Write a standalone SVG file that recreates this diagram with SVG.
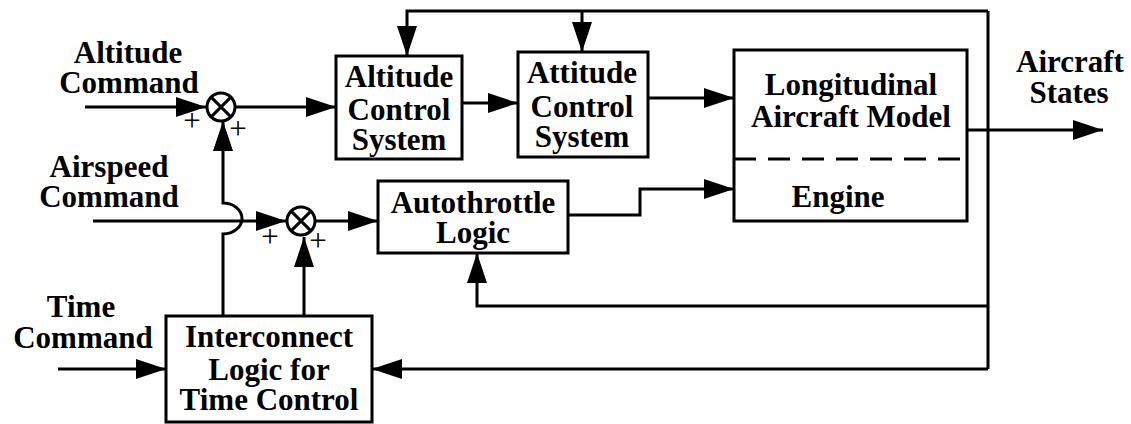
<svg xmlns="http://www.w3.org/2000/svg" width="1131" height="424" viewBox="0 0 1131 424">
<style>
.ln{fill:none;stroke:#000;stroke-width:3}
.box{fill:#fff;stroke:#000;stroke-width:3}
.t{font-family:"Liberation Serif","Times New Roman",serif;font-weight:bold;font-size:31px;text-anchor:middle;fill:#000}
.p{font-family:"Liberation Serif","Times New Roman",serif;font-size:31px;text-anchor:middle;fill:#000}
</style>
<defs>
<marker id="ah" markerUnits="userSpaceOnUse" markerWidth="30" markerHeight="20" refX="30" refY="10" orient="auto" viewBox="0 0 30 20">
<path d="M0,0 L30,10 L0,20 z" fill="#000"/>
</marker>
</defs>
<rect width="1131" height="424" fill="#fff"/>
<g id="connectors">
<path class="ln" d="M85,107 H206" marker-end="url(#ah)"/>
<path class="ln" d="M235,107 H336" marker-end="url(#ah)"/>
<path class="ln" d="M462,103 H518" marker-end="url(#ah)"/>
<path class="ln" d="M648,98 H734" marker-end="url(#ah)"/>
<path class="ln" d="M967,130 H1103" marker-end="url(#ah)"/>
<path class="ln" d="M988,11 V369"/>
<path class="ln" d="M988,11 H407 V56" marker-end="url(#ah)"/>
<path class="ln" d="M582,11 V52" marker-end="url(#ah)"/>
<path class="ln" d="M93,221 H286" marker-end="url(#ah)"/>
<path class="ln" d="M315,221 H378" marker-end="url(#ah)"/>
<path class="ln" d="M568,215 H640 V189 H734" marker-end="url(#ah)"/>
<path class="ln" d="M988,306 H477 V253" marker-end="url(#ah)"/>
<path class="ln" d="M988,369 H372" marker-end="url(#ah)"/>
<path class="ln" d="M58,369 H166" marker-end="url(#ah)"/>
<path class="ln" d="M223,316 V234 A19,15.5 0 0 0 223,203 V121" marker-end="url(#ah)"/>
<path class="ln" d="M304,316 V237" marker-end="url(#ah)"/>
</g>
<g id="sum1">
<circle class="box" cx="221" cy="107" r="14"/>
<path class="ln" d="M211.1,97.1 L230.9,116.9 M230.9,97.1 L211.1,116.9"/>
<text class="p" x="192" y="130.5">+</text>
<text class="p" x="238" y="138.5">+</text>
</g>
<g id="sum2">
<circle class="box" cx="301" cy="221" r="14"/>
<path class="ln" d="M291.1,211.1 L310.9,230.9 M310.9,211.1 L291.1,230.9"/>
<text class="p" x="270" y="246.5">+</text>
<text class="p" x="318" y="250.5">+</text>
</g>
<g id="altitude-command">
<text class="t" x="128" y="63">Altitude</text>
<text class="t" x="129" y="93">Command</text>
</g>
<g id="airspeed-command">
<text class="t" x="109" y="177">Airspeed</text>
<text class="t" x="109" y="207">Command</text>
</g>
<g id="time-command">
<text class="t" x="81" y="317">Time</text>
<text class="t" x="83" y="348">Command</text>
</g>
<g id="aircraft-states">
<text class="t" x="1070" y="72">Aircraft</text>
<text class="t" x="1069" y="103">States</text>
</g>
<g id="altitude-control">
<rect class="box" x="336" y="56" width="126" height="103"/>
<text class="t" x="399" y="87">Altitude</text>
<text class="t" x="399" y="120">Control</text>
<text class="t" x="399" y="150">System</text>
</g>
<g id="attitude-control">
<rect class="box" x="518" y="52" width="130" height="105"/>
<text class="t" x="582" y="83">Attitude</text>
<text class="t" x="582" y="117">Control</text>
<text class="t" x="582" y="147">System</text>
</g>
<g id="aircraft-model">
<rect class="box" x="734" y="50" width="233" height="171"/>
<line x1="734" y1="159" x2="967" y2="159" stroke="#000" stroke-width="3" stroke-dasharray="22,12"/>
<text class="t" x="851" y="95">Longitudinal</text>
<text class="t" x="851" y="127">Aircraft Model</text>
<text class="t" x="838" y="207">Engine</text>
</g>
<g id="autothrottle">
<rect class="box" x="378" y="181" width="190" height="72"/>
<text class="t" x="473" y="213">Autothrottle</text>
<text class="t" x="473" y="243">Logic</text>
</g>
<g id="interconnect">
<rect class="box" x="166" y="316" width="206" height="106"/>
<text class="t" x="269" y="347">Interconnect</text>
<text class="t" x="269" y="380">Logic for</text>
<text class="t" x="269" y="410">Time Control</text>
</g>
</svg>
